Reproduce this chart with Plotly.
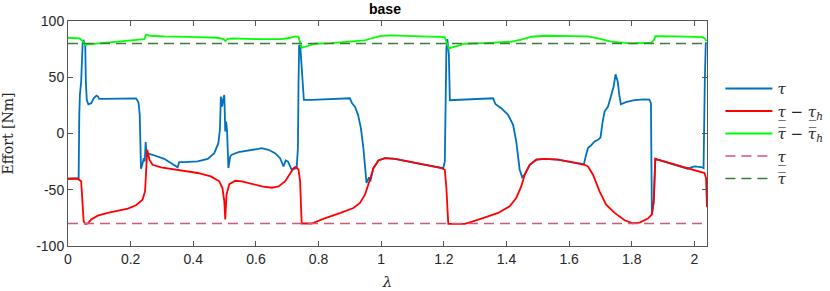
import plotly.graph_objects as go

# ---- data ----
tau_x = [0.000, 0.031, 0.034, 0.036, 0.038, 0.042, 0.045, 0.047, 0.050, 0.055, 0.057, 0.060,
         0.065, 0.074, 0.082, 0.091, 0.096, 0.100, 0.111, 0.148, 0.201, 0.217, 0.225, 0.229,
         0.231, 0.233, 0.237, 0.242, 0.245, 0.248, 0.251, 0.257, 0.270, 0.307, 0.350, 0.355,
         0.371, 0.414, 0.446, 0.467, 0.480, 0.485, 0.488, 0.492, 0.495, 0.499, 0.502, 0.505,
         0.508, 0.512, 0.518, 0.523, 0.544, 0.576, 0.608, 0.618, 0.640, 0.661, 0.677, 0.688,
         0.695, 0.702, 0.709, 0.714, 0.730, 0.734, 0.736, 0.738, 0.742, 0.746, 0.749, 0.753,
         0.778, 0.820, 0.900, 0.907, 0.916, 0.926, 0.935, 0.943, 0.948, 0.953, 0.961, 0.965,
         0.975, 0.991, 1.012, 1.044, 1.097, 1.150, 1.192, 1.198, 1.203, 1.206, 1.208, 1.211,
         1.216, 1.219, 1.245, 1.357, 1.365, 1.383, 1.405, 1.421, 1.431, 1.437, 1.442, 1.450,
         1.458, 1.474, 1.495, 1.522, 1.564, 1.607, 1.647, 1.654, 1.660, 1.670, 1.681, 1.692,
         1.700, 1.707, 1.713, 1.724, 1.734, 1.742, 1.748, 1.755, 1.760, 1.765, 1.781, 1.808,
         1.840, 1.856, 1.861, 1.863, 1.864, 1.870, 1.875, 1.883, 1.925, 1.978, 1.995, 2.000,
         2.021, 2.029, 2.033, 2.036, 2.039]
tau_y = [-40.2, -40.2, -39.6, 16.6, 34.3, 46.1, 72.7, 81.6, 82.5, 78.6, 46.1, 29.8,
         26.0, 26.9, 31.3, 33.7, 32.8, 30.7, 30.7, 30.7, 31.3, 31.3, 27.8, 16.6,
         -7.1, -31.3, -27.8, -21.9, -24.8, -7.7, -18.9, -18.0, -18.9, -22.5, -30.1, -25.4,
         -25.4, -24.8, -22.5, -17.5, -8.6, 3.3, 32.8, 23.9, 29.8, 34.3, 1.8, 10.6,
         1.8, -30.7, -20.4, -18.9, -16.6, -15.4, -13.6, -13.0, -14.5, -17.5, -21.9, -29.3,
         -24.0, -24.8, -29.3, -32.2, -30.8, -13.0, 46.1, 78.6, 75.7, 60.9, 46.1, 29.8,
         29.8, 30.4, 31.3, 26.9, 23.9, 16.6, 4.8, -13.0, -30.8, -44.0, -39.0, -42.6,
         -30.8, -24.0, -21.9, -22.5, -25.4, -28.4, -30.8, -30.8, -24.8, 16.6, 75.7, 84.0,
         69.8, 29.6, 29.8, 31.3, 26.0, 22.5, 16.6, 7.7, -7.1, -18.9, -32.2, -39.0,
         -36.6, -27.8, -23.3, -22.5, -23.3, -25.4, -27.2, -18.9, -13.0, -10.6, -7.1, -5.6,
         -3.5, 10.7, 19.5, 24.0, 32.8, 41.7, 52.6, 46.1, 34.3, 26.0, 27.8, 29.6,
         30.4, 30.1, 26.9, -13.0, -72.0, -60.3, -22.5, -23.3, -26.8, -31.3, -29.6, -29.3,
         -29.8, -30.8, 46.1, 80.0, 81.0]

low_x = [0.000, 0.031, 0.042, 0.047, 0.050, 0.055, 0.063, 0.074, 0.095, 0.127, 0.159, 0.191,
         0.217, 0.238, 0.246, 0.249, 0.251, 0.253, 0.260, 0.270, 0.297, 0.350, 0.414, 0.456,
         0.483, 0.493, 0.499, 0.502, 0.506, 0.515, 0.534, 0.555, 0.587, 0.619, 0.651, 0.672,
         0.693, 0.709, 0.720, 0.727, 0.736, 0.741, 0.744, 0.746, 0.778, 0.817, 0.870, 0.911,
         0.932, 0.948, 0.964, 0.975, 0.991, 1.012, 1.044, 1.097, 1.150, 1.192, 1.203, 1.208,
         1.214, 1.267, 1.320, 1.373, 1.410, 1.431, 1.447, 1.458, 1.474, 1.495, 1.522, 1.564,
         1.607, 1.649, 1.660, 1.676, 1.697, 1.718, 1.745, 1.777, 1.803, 1.825, 1.851, 1.864,
         1.870, 1.875, 1.883, 1.925, 1.978, 2.032, 2.037, 2.040]
low_y = [-40.2, -40.2, -42.5, -60.0, -78.0, -80.5, -80.0, -76.5, -73.0, -70.6, -69.0, -66.8,
         -63.8, -58.8, -51.4, -33.7, -16.0, -14.5, -23.3, -27.8, -30.1, -32.2, -35.1, -38.1,
         -42.5, -48.5, -60.0, -76.5, -54.4, -45.0, -42.0, -42.6, -44.9, -47.0, -48.2, -47.0,
         -42.6, -35.2, -30.8, -29.6, -32.2, -42.6, -66.0, -80.0, -80.0, -75.6, -70.6, -66.2,
         -61.7, -54.4, -41.0, -30.8, -24.0, -21.9, -22.5, -25.4, -28.4, -30.8, -32.2, -48.4,
         -80.3, -80.3, -75.6, -70.6, -64.7, -57.3, -47.0, -36.6, -27.8, -23.3, -22.5, -23.3,
         -25.4, -27.8, -29.3, -36.6, -51.4, -63.2, -70.6, -77.1, -79.8, -79.2, -75.6, -72.0,
         -60.3, -22.5, -23.3, -26.8, -31.3, -35.2, -39.6, -65.6]

up_x = [0.000, 0.037, 0.047, 0.055, 0.063, 0.095, 0.148, 0.201, 0.244, 0.249, 0.251, 0.260,
        0.307, 0.414, 0.477, 0.497, 0.502, 0.509, 0.523, 0.608, 0.681, 0.709, 0.725, 0.736,
        0.741, 0.746, 0.767, 0.788, 0.840, 0.905, 0.948, 0.975, 0.996, 1.028, 1.118, 1.203,
        1.208, 1.216, 1.235, 1.267, 1.331, 1.415, 1.447, 1.479, 1.522, 1.660, 1.692, 1.734,
        1.798, 1.862, 1.870, 1.875, 1.946, 2.025, 2.033, 2.038]
up_y = [85.1, 84.5, 82.2, 78.6, 79.2, 80.1, 81.6, 82.8, 83.9, 87.5, 88.0, 86.9,
        86.3, 85.7, 85.1, 83.9, 82.2, 83.9, 84.5, 83.9, 83.9, 85.1, 86.3, 85.7,
        81.6, 76.2, 78.0, 79.8, 80.4, 81.6, 82.8, 85.1, 86.6, 87.2, 86.3, 85.7,
        81.6, 75.7, 77.2, 79.8, 80.4, 81.6, 83.4, 86.0, 86.9, 86.3, 84.5, 81.6,
        80.1, 80.7, 82.8, 86.6, 86.3, 85.7, 84.5, 82.2]

x_range = [0.0, 2.04]
tau_min = -80
tau_max = 80
x_ticks = [0, 0.2, 0.4, 0.6, 0.8, 1, 1.2, 1.4, 1.6, 1.8, 2]
x_tick_text = ["0", "0.2", "0.4", "0.6", "0.8", "1", "1.2", "1.4", "1.6", "1.8", "2"]
y_ticks = [-100, -50, 0, 50, 100]
y_tick_text = ["-100", "-50", "0", "50", "100"]

SERIF = "DejaVu Serif, Liberation Serif, serif"
SANS = "Liberation Sans, Arial, sans-serif"

fig = go.Figure()
fig.add_trace(go.Scatter(x=tau_x, y=tau_y, mode="lines", name="<i>τ</i>",
                         line=dict(color="#0072BD", width=1.8)))
fig.add_trace(go.Scatter(x=low_x, y=low_y, mode="lines",
                         name="<i>τ̲</i> − <i>τ̲</i><sub><i>h</i></sub>",
                         line=dict(color="#FF0000", width=1.8)))
fig.add_trace(go.Scatter(x=up_x, y=up_y, mode="lines",
                         name="<i>τ̅</i> − <i>τ̅</i><sub><i>h</i></sub>",
                         line=dict(color="#00FF00", width=1.8)))
fig.add_trace(go.Scatter(x=x_range, y=[tau_min, tau_min], mode="lines", name="<i>τ̲</i>",
                         line=dict(color="#D0587E", width=1.6, dash="10px,6px")))
fig.add_trace(go.Scatter(x=x_range, y=[tau_max, tau_max], mode="lines", name="<i>τ̅</i>",
                         line=dict(color="#3D7A3D", width=1.6, dash="10px,6px")))

axis_common = dict(showline=True, linecolor="#555555", linewidth=1, mirror="allticks",
                   ticks="inside", ticklen=5, tickcolor="#555555", showgrid=False,
                   zeroline=False, automargin=False,
                   tickfont=dict(family=SANS, size=14, color="#262626"))

fig.update_layout(
    template="none",
    width=830, height=291,
    margin=dict(l=67.5, r=122.5, t=20.7, b=44.7, autoexpand=False),
    paper_bgcolor="white", plot_bgcolor="white",
    title=dict(text="<b>base</b>", x=385 / 830, xanchor="center", xref="container",
               y=1 - 9 / 291, yanchor="middle", yref="container", automargin=False,
               font=dict(family=SANS, size=14, color="black")),
    xaxis=dict(range=x_range, tickvals=x_ticks, ticktext=x_tick_text,
               title=dict(text="<i>λ</i>", font=dict(family=SERIF, size=15, color="#262626"),
                          standoff=13),
               **axis_common),
    yaxis=dict(range=[-100, 100], tickvals=y_ticks, ticktext=y_tick_text,
               title=dict(text="Effort [Nm]", font=dict(family=SERIF, size=14, color="#262626"),
                          standoff=21),
               **axis_common),
    legend=dict(x=1.021, xanchor="left", y=0.499, yanchor="middle",
                font=dict(family=SERIF, size=15, color="#262626"),
                bgcolor="rgba(0,0,0,0)", borderwidth=0, itemwidth=47, tracegroupgap=0),
    showlegend=True,
)

fig.write_html("out.html", config={"displayModeBar": False},
               post_script="document.body.style.margin='0';")
